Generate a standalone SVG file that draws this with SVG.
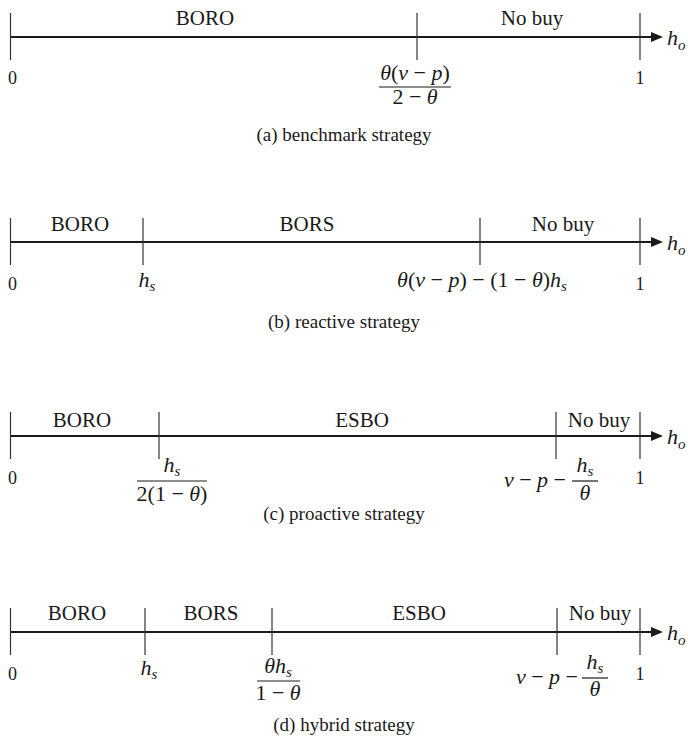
<svg xmlns="http://www.w3.org/2000/svg" width="688" height="746" viewBox="0 0 688 746">
<style>
  .axis { stroke:#1a1a1a; stroke-width:2; fill:none }
  .tick { stroke:#333; stroke-width:1.2 }
  .bar { stroke:#1a1a1a; stroke-width:1.2 }
  text { font-family:"Liberation Serif","Times New Roman",serif; fill:#1a1a1a; text-anchor:middle }
  .lbl { font-size:21px }
  .num { font-size:18px }
  .cap { font-size:19px }
  .m { font-size:22px }
  .i { font-style:italic }
  .sub { font-size:15px; font-style:italic }
</style>
<defs>
  <marker id="arrow" markerUnits="userSpaceOnUse" markerWidth="13" markerHeight="11" refX="0" refY="5" orient="auto">
    <path d="M0,0 L12,5 L0,10 z" fill="#1a1a1a"/>
  </marker>
</defs>

<!-- axes with arrowheads -->
<g id="connectors">
  <line class="axis" x1="10" y1="37" x2="651" y2="37" marker-end="url(#arrow)"/>
  <line class="axis" x1="10" y1="242" x2="651" y2="242" marker-end="url(#arrow)"/>
  <line class="axis" x1="10" y1="436" x2="651" y2="436" marker-end="url(#arrow)"/>
  <line class="axis" x1="10" y1="632" x2="651" y2="632" marker-end="url(#arrow)"/>
</g>

<!-- (a) benchmark strategy -->
<g id="panel-a">
  <line class="tick" x1="10.5" y1="13" x2="10.5" y2="60"/>
  <line class="tick" x1="417" y1="13" x2="417" y2="60"/>
  <line class="tick" x1="640" y1="13" x2="640" y2="60"/>
  <text class="lbl" x="205" y="25">BORO</text>
  <text class="lbl" x="532" y="25">No buy</text>
  <text x="667" y="45" class="m" style="text-anchor:start"><tspan class="i">h</tspan><tspan class="sub" dy="5">o</tspan></text>
  <text class="num" x="12.5" y="84">0</text>
  <text class="num" x="640" y="84">1</text>
  <text class="m" x="415" y="80"><tspan class="i">θ</tspan>(<tspan class="i">v</tspan> − <tspan class="i">p</tspan>)</text>
  <line class="bar" x1="379" y1="87" x2="451" y2="87"/>
  <text class="m" x="415" y="104">2 − <tspan class="i">θ</tspan></text>
  <text class="cap" x="344" y="141">(a) benchmark strategy</text>
</g>

<!-- (b) reactive strategy -->
<g id="panel-b">
  <line class="tick" x1="10.5" y1="218" x2="10.5" y2="265"/>
  <line class="tick" x1="143" y1="218" x2="143" y2="265"/>
  <line class="tick" x1="480" y1="218" x2="480" y2="265"/>
  <line class="tick" x1="640" y1="218" x2="640" y2="265"/>
  <text class="lbl" x="80" y="231">BORO</text>
  <text class="lbl" x="307" y="231">BORS</text>
  <text class="lbl" x="563" y="231">No buy</text>
  <text x="667" y="250" class="m" style="text-anchor:start"><tspan class="i">h</tspan><tspan class="sub" dy="5">o</tspan></text>
  <text class="num" x="12.5" y="290">0</text>
  <text class="num" x="640" y="290">1</text>
  <text class="m" x="147" y="287"><tspan class="i">h</tspan><tspan class="sub" dy="4">s</tspan></text>
  <text class="m" x="482" y="287"><tspan class="i">θ</tspan>(<tspan class="i">v</tspan> − <tspan class="i">p</tspan>) − (1 − <tspan class="i">θ</tspan>)<tspan class="i">h</tspan><tspan class="sub" dy="4">s</tspan></text>
  <text class="cap" x="344" y="328">(b) reactive strategy</text>
</g>

<!-- (c) proactive strategy -->
<g id="panel-c">
  <line class="tick" x1="10.5" y1="412" x2="10.5" y2="459"/>
  <line class="tick" x1="159" y1="412" x2="159" y2="459"/>
  <line class="tick" x1="556" y1="412" x2="556" y2="459"/>
  <line class="tick" x1="640" y1="412" x2="640" y2="459"/>
  <text class="lbl" x="82" y="427">BORO</text>
  <text class="lbl" x="362" y="427">ESBO</text>
  <text class="lbl" x="599" y="427">No buy</text>
  <text x="667" y="444" class="m" style="text-anchor:start"><tspan class="i">h</tspan><tspan class="sub" dy="5">o</tspan></text>
  <text class="num" x="12.5" y="484">0</text>
  <text class="num" x="640" y="484">1</text>
  <text class="m" x="172" y="472"><tspan class="i">h</tspan><tspan class="sub" dy="4">s</tspan></text>
  <line class="bar" x1="137" y1="481" x2="207" y2="481"/>
  <text class="m" x="172" y="501">2(1 − <tspan class="i">θ</tspan>)</text>
  <text class="m" x="566" y="487" style="text-anchor:end"><tspan class="i">v</tspan> − <tspan class="i">p</tspan> −</text>
  <text class="m" x="585" y="472"><tspan class="i">h</tspan><tspan class="sub" dy="4">s</tspan></text>
  <line class="bar" x1="572" y1="481" x2="598" y2="481"/>
  <text class="m" x="585" y="500"><tspan class="i">θ</tspan></text>
  <text class="cap" x="344" y="520">(c) proactive strategy</text>
</g>

<!-- (d) hybrid strategy -->
<g id="panel-d">
  <line class="tick" x1="10.5" y1="608" x2="10.5" y2="655"/>
  <line class="tick" x1="145" y1="608" x2="145" y2="655"/>
  <line class="tick" x1="272" y1="608" x2="272" y2="655"/>
  <line class="tick" x1="557" y1="608" x2="557" y2="655"/>
  <line class="tick" x1="640" y1="608" x2="640" y2="655"/>
  <text class="lbl" x="77" y="620">BORO</text>
  <text class="lbl" x="211" y="620">BORS</text>
  <text class="lbl" x="419" y="620">ESBO</text>
  <text class="lbl" x="600" y="620">No buy</text>
  <text x="667" y="640" class="m" style="text-anchor:start"><tspan class="i">h</tspan><tspan class="sub" dy="5">o</tspan></text>
  <text class="num" x="12.5" y="680">0</text>
  <text class="num" x="640" y="680">1</text>
  <text class="m" x="149" y="675"><tspan class="i">h</tspan><tspan class="sub" dy="4">s</tspan></text>
  <text class="m" x="278" y="673"><tspan class="i">θ</tspan><tspan class="i">h</tspan><tspan class="sub" dy="4">s</tspan></text>
  <line class="bar" x1="257" y1="681" x2="300" y2="681"/>
  <text class="m" x="278" y="700">1 − <tspan class="i">θ</tspan></text>
  <text class="m" x="578" y="684" style="text-anchor:end"><tspan class="i">v</tspan> − <tspan class="i">p</tspan> −</text>
  <text class="m" x="595" y="669"><tspan class="i">h</tspan><tspan class="sub" dy="4">s</tspan></text>
  <line class="bar" x1="582" y1="678" x2="608" y2="678"/>
  <text class="m" x="595" y="696"><tspan class="i">θ</tspan></text>
  <text class="cap" x="344" y="731">(d) hybrid strategy</text>
</g>
</svg>
